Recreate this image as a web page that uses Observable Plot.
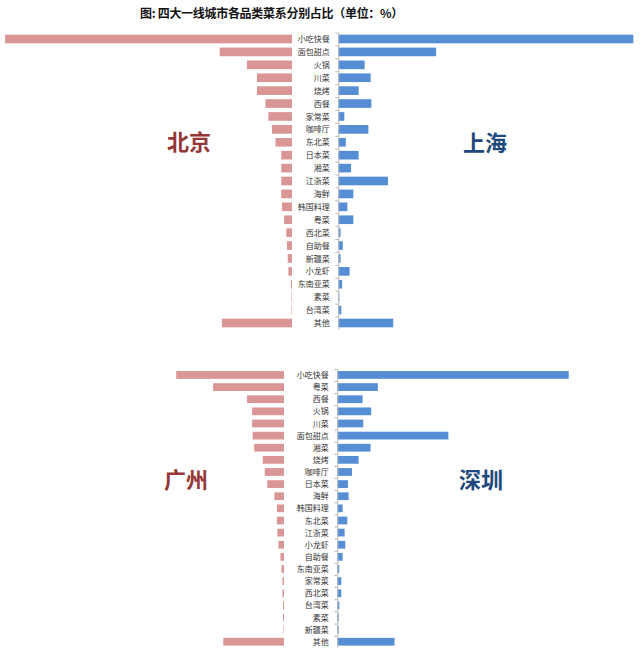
<!DOCTYPE html>
<html>
<head>
<meta charset="utf-8">
<script src="https://cdn.jsdelivr.net/npm/d3@7"></script>
<script src="https://cdn.jsdelivr.net/npm/@observablehq/plot@0.6"></script>
<style>
  body { margin: 0; background: #fff; font-family: "Noto Sans CJK SC", "Noto Sans", sans-serif; }
  #wrap { position: relative; width: 641px; height: 651px; overflow: hidden; }
  #wrap svg { position: absolute; left: 0; background: transparent; }
  .title { position: absolute; top: 5px; left: 140px; font-size: 12px; font-weight: bold; color: #111; white-space: nowrap; line-height: 16px; letter-spacing: -0.3px; }
  .city { position: absolute; font-size: 22px; font-weight: bold; transform: translate(-50%, -50%); white-space: nowrap; line-height: 1; }
</style>
</head>
<body>
<div id="wrap">
  <div class="title">图: 四大一线城市各品类菜系分别占比（单位：%）</div>
</div>
<script>
// Top panel categories (北京 / 上海)
const catsTop = ["小吃快餐","面包甜点","火锅","川菜","烧烤","西餐","家常菜","咖啡厅","东北菜","日本菜","湘菜","江浙菜","海鲜","韩国料理","粤菜","西北菜","自助餐","新疆菜","小龙虾","东南亚菜","素菜","台湾菜","其他"];
const beijing  = [40.1,10.1,6.3,4.9,4.9,3.7,3.3,2.8,2.3,1.5,1.5,1.5,1.5,1.4,1.1,0.8,0.7,0.6,0.5,0.14,0.07,0.07,9.8];
const shanghai = [39.2,13.0,3.5,4.3,2.7,4.4,0.8,4.0,1.0,2.7,1.7,6.6,2.0,1.2,2.0,0.3,0.6,0.3,1.5,0.5,0.13,0.4,7.3];

// Bottom panel categories (广州 / 深圳)
const catsBottom = ["小吃快餐","粤菜","西餐","火锅","川菜","面包甜点","湘菜","烧烤","咖啡厅","日本菜","海鲜","韩国料理","东北菜","江浙菜","小龙虾","自助餐","东南亚菜","家常菜","西北菜","台湾菜","素菜","新疆菜","其他"];
const guangzhou = [21.3,14.0,7.3,6.3,6.3,6.2,5.9,4.2,3.8,3.3,1.9,1.4,1.4,1.3,1.1,0.7,0.5,0.3,0.3,0.2,0.2,0.1,12.0];
const shenzhen  = [34.8,6.1,3.8,5.1,3.9,16.7,5.0,3.2,2.2,1.6,1.7,0.8,1.5,1.1,1.2,0.8,0.3,0.6,0.6,0.3,0.2,0.2,8.6];

const cityNames = ["北京","上海","广州","深圳"];
const cityColors = ["#953735","#1F497D","#953735","#1F497D"];
const pink = "#DA9694";
const blue = "#558ED5";

const wrap = document.getElementById("wrap");
const W = 641;

function rows(cats, vals) { return cats.map((c, i) => ({cat: c, v: vals[i]})); }

function panel({cats, vals, top, height, mt, mb, xRange, color, padding, withAxis}) {
  const data = rows(cats, vals);
  const step = (height - mt - mb) / cats.length;
  const marks = [Plot.barX(data, {x: "v", y: "cat", fill: color})];
  if (withAxis) {
    marks.push(Plot.ruleX([0], {stroke: "#b8b8b8", strokeWidth: 1}));
    marks.push(Plot.axisY({anchor: "left", tickSize: 3, tickFormat: () => "", stroke: "#b8b8b8", dy: -step / 2, label: null}));
    marks.push(Plot.axisY({anchor: "left", tickSize: 0, tickPadding: 9, fontSize: 8, fill: "#333", label: null}));
  }
  const svg = Plot.plot({
    width: W, height,
    marginTop: mt, marginBottom: mb,
    marginLeft: withAxis ? xRange[0] : 0, marginRight: 0,
    style: {background: "transparent", fontFamily: "'Noto Sans CJK SC', sans-serif", overflow: "visible"},
    x: {domain: [0, 40], range: xRange, axis: null},
    y: {domain: cats, paddingInner: padding, paddingOuter: padding / 2, round: false, axis: null, label: null},
    marks
  });
  svg.style.top = top + "px";
  wrap.appendChild(svg);
}

// Top half
panel({cats: catsTop, vals: beijing, top: 28, height: 305, mt: 4.55, mb: 3.55, xRange: [292, 292 - 40 * 7.155], color: pink, padding: 0.33});
panel({cats: catsTop, vals: shanghai, top: 28, height: 305, mt: 4.55, mb: 3.55, xRange: [338.3, 338.3 + 40 * 7.525], color: blue, padding: 0.33, withAxis: true});
// Bottom half
panel({cats: catsBottom, vals: guangzhou, top: 365, height: 285, mt: 3.9, mb: 2.2, xRange: [284, 284 - 40 * 5.06], color: pink, padding: 0.36});
panel({cats: catsBottom, vals: shenzhen, top: 365, height: 285, mt: 3.9, mb: 2.2, xRange: [337.3, 337.3 + 40 * 6.651], color: blue, padding: 0.36, withAxis: true});

// City labels
const cityPos = [[189, 140], [485, 141], [186, 478], [481, 478]];
cityNames.forEach((n, i) => {
  const d = document.createElement("div");
  d.className = "city";
  d.textContent = n;
  d.style.left = cityPos[i][0] + "px";
  d.style.top = cityPos[i][1] + "px";
  d.style.color = cityColors[i];
  wrap.appendChild(d);
});
</script>
</body>
</html>
